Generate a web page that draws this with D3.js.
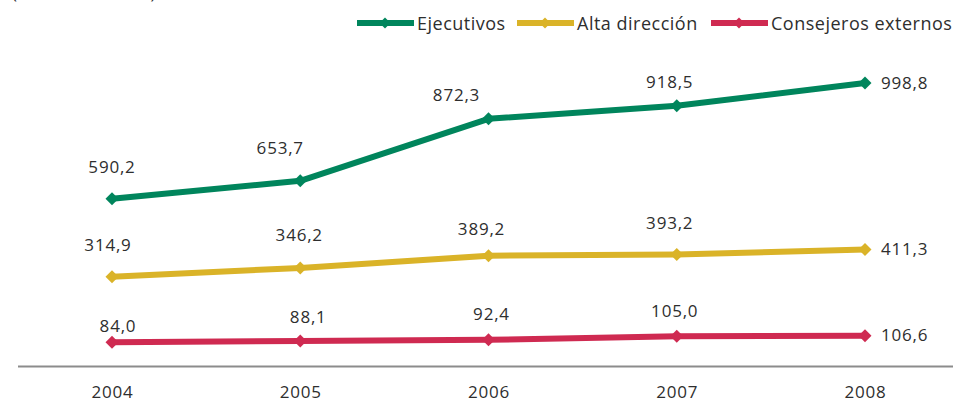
<!DOCTYPE html>
<html>
<head>
<meta charset="utf-8">
<script src="https://cdn.jsdelivr.net/npm/d3@7"></script>
<style>
  html, body { margin: 0; padding: 0; background: #fff; }
  svg { display: block; font-family: "Open Sans", "Noto Sans", sans-serif; }
</style>
</head>
<body>
<svg id="chart" width="953" height="407"></svg>
<script>
// Remuneración media por colectivo (miles de euros)
const years = ["2004", "2005", "2006", "2007", "2008"];
const seriesNames = ["Ejecutivos", "Alta dirección", "Consejeros externos"];
const ejecutivos = [590.2, 653.7, 872.3, 918.5, 998.8];
const altaDireccion = [314.9, 346.2, 389.2, 393.2, 411.3];
const consejerosExternos = [84.0, 88.1, 92.4, 105.0, 106.6];

// Label nudges (px) so value labels clear the lines
const labelNudgeEjecutivos = [[0, -32], [-20, -33], [-32, -24], [-7, -24]];
const labelNudgeAlta = [[-4, -32], [-1, -33], [-7, -27], [-7, -32]];
const labelNudgeConsejeros = [[6, -17], [8, -25], [3, -26], [-2, -26]];

const colors = ["#00855c", "#dab328", "#cf2a51"];
const textColor = "#2e2e2e";
const fmt = v => d3.format(".1f")(v).replace(".", ",");

const svg = d3.select("#chart");

const x = d3.scalePoint().domain(years).range([112, 865]);
const y = d3.scaleLinear().domain([0, 998.8]).range([366, 83]);

const series = [
  { name: seriesNames[0], values: ejecutivos, nudge: labelNudgeEjecutivos, color: colors[0] },
  { name: seriesNames[1], values: altaDireccion, nudge: labelNudgeAlta, color: colors[1] },
  { name: seriesNames[2], values: consejerosExternos, nudge: labelNudgeConsejeros, color: colors[2] }
];

// Unit caption, sitting above the top edge
svg.append("text")
  .attr("x", 12).attr("y", -1)
  .attr("font-size", 17).attr("letter-spacing", 1.2)
  .attr("fill", textColor)
  .text("(Miles de euros)");

// Baseline axis
const xAxis = d3.axisBottom(x).tickSize(0).tickPadding(20);
const axisG = svg.append("g").attr("transform", "translate(0,366)").call(xAxis);
axisG.select(".domain").remove();
axisG.selectAll("text")
  .attr("font-size", 17).attr("letter-spacing", 0.8)
  .attr("fill", textColor)
  .attr("font-family", "Open Sans, Noto Sans, sans-serif");
svg.append("line")
  .attr("x1", 18).attr("x2", 953)
  .attr("y1", 366.5).attr("y2", 366.5)
  .attr("stroke", "#8c8c8c").attr("stroke-width", 2);

const line = d3.line().x((d, i) => x(years[i])).y(d => y(d));

series.forEach(s => {
  const g = svg.append("g");
  g.append("path")
    .attr("d", line(s.values))
    .attr("fill", "none")
    .attr("stroke", s.color)
    .attr("stroke-width", 6)
    .attr("stroke-linejoin", "round");

  g.selectAll("path.mk")
    .data(s.values)
    .join("path")
    .attr("class", "mk")
    .attr("d", d3.symbol().type(d3.symbolSquare).size(84)())
    .attr("transform", (d, i) => `translate(${x(years[i])},${y(d)}) rotate(45)`)
    .attr("fill", s.color);

  g.selectAll("text")
    .data(s.values)
    .join("text")
    .attr("font-size", 17)
    .attr("letter-spacing", 0.8)
    .attr("fill", textColor)
    .attr("dominant-baseline", "central")
    .attr("text-anchor", (d, i) => i === s.values.length - 1 ? "start" : "middle")
    .attr("x", (d, i) => i === s.values.length - 1 ? x(years[i]) + 16 : x(years[i]) + s.nudge[i][0])
    .attr("y", (d, i) => i === s.values.length - 1 ? y(d) - 1 : y(d) + s.nudge[i][1])
    .text(d => fmt(d));
});

// Legend
const legendX = [357, 517, 711];
const legend = svg.append("g");
series.forEach((s, i) => {
  const lg = legend.append("g").attr("transform", `translate(${legendX[i]},23)`);
  lg.append("line")
    .attr("x1", 0).attr("x2", 57).attr("y1", 0).attr("y2", 0)
    .attr("stroke", s.color).attr("stroke-width", 6);
  lg.append("path")
    .attr("d", d3.symbol().type(d3.symbolSquare).size(60)())
    .attr("transform", "translate(28,0) rotate(45)")
    .attr("fill", s.color);
  lg.append("text")
    .attr("x", 60).attr("y", 0)
    .attr("dominant-baseline", "central")
    .attr("font-size", 18).attr("letter-spacing", 0.5)
    .attr("fill", textColor)
    .text(s.name);
});
</script>
</body>
</html>
